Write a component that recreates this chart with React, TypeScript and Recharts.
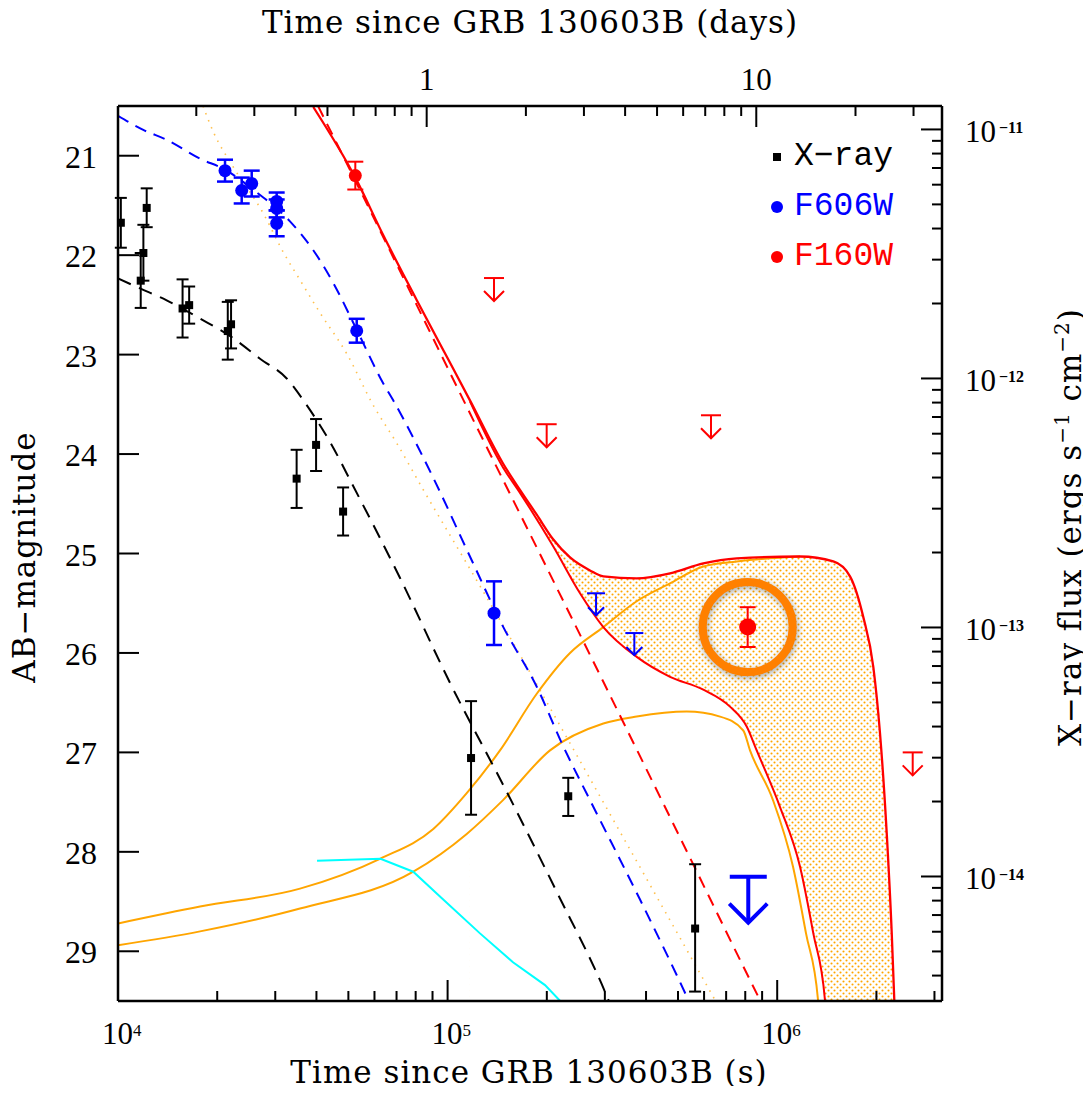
import React from "react";
import { ComposedChart, Line, Area, Scatter, XAxis, YAxis, ErrorBar } from "recharts";

type MagPoint = { t: number; m: number };

const SERIF = "'Liberation Serif', 'Times New Roman', serif";
const WIDE_SERIF = "'DejaVu Serif', 'Liberation Serif', serif";
const MONO = "'Liberation Mono', 'Courier New', monospace";

// axis ticks
const magTicks = [21, 22, 23, 24, 25, 26, 27, 28, 29];
const secondsTicks = [
  1e4, 2e4, 3e4, 4e4, 5e4, 6e4, 7e4, 8e4, 9e4,
  1e5, 2e5, 3e5, 4e5, 5e5, 6e5, 7e5, 8e5, 9e5,
  1e6, 2e6, 3e6,
];
const secondsMajor = [1e4, 1e5, 1e6];
const secondsLabels = ["4", "5", "6"];
const daysTicks = [0.2, 0.3, 0.4, 0.5, 0.6, 0.7, 0.8, 0.9, 1, 2, 3, 4, 5, 6, 7, 8, 9, 10, 20, 30];
const daysMajor = [1, 10];
const daysLabels = ["1", "10"];
const fluxTicks = [
  1e-11, 9e-12, 8e-12, 7e-12, 6e-12, 5e-12, 4e-12, 3e-12, 2e-12,
  1e-12, 9e-13, 8e-13, 7e-13, 6e-13, 5e-13, 4e-13, 3e-13, 2e-13,
  1e-13, 9e-14, 8e-14, 7e-14, 6e-14, 5e-14, 4e-14, 3e-14, 2e-14,
  1e-14, 9e-15, 8e-15, 7e-15, 6e-15, 5e-15, 4e-15,
];
const fluxMajor = [1e-11, 1e-12, 1e-13, 1e-14];
const fluxLabels = ["\u221211", "\u221212", "\u221213", "\u221214"];

// X-ray flux (erg/s/cm2) with error bar bounds
const xrayPoints = [
  { t: 1.02e4, f: 4.22e-12, lo: 3.35e-12, hi: 5.31e-12 },
  { t: 1.222e4, f: 4.84e-12, lo: 4.05e-12, hi: 5.8e-12 },
  { t: 1.194e4, f: 3.19e-12, lo: 2.47e-12, hi: 4.14e-12 },
  { t: 1.172e4, f: 2.47e-12, lo: 1.92e-12, hi: 3.19e-12 },
  { t: 1.57e4, f: 1.91e-12, lo: 1.46e-12, hi: 2.5e-12 },
  { t: 1.644e4, f: 1.97e-12, lo: 1.66e-12, hi: 2.34e-12 },
  { t: 2.153e4, f: 1.55e-12, lo: 1.19e-12, hi: 2.03e-12 },
  { t: 2.203e4, f: 1.65e-12, lo: 1.32e-12, hi: 2.06e-12 },
  { t: 3.483e4, f: 3.96e-13, lo: 3.02e-13, hi: 5.17e-13 },
  { t: 3.99e4, f: 5.41e-13, lo: 4.25e-13, hi: 6.87e-13 },
  { t: 4.819e4, f: 2.92e-13, lo: 2.34e-13, hi: 3.65e-13 },
  { t: 1.178e5, f: 2.99e-14, lo: 1.77e-14, hi: 5.06e-14 },
  { t: 2.323e5, f: 2.1e-14, lo: 1.75e-14, hi: 2.49e-14 },
  { t: 5.636e5, f: 6.18e-15, lo: 3.45e-15, hi: 1.12e-14 },
];

// optical detections (AB mag, 1 sigma)
const f606w = [
  { t: 2.112e4, m: 21.15, e: 0.11 },
  { t: 2.373e4, m: 21.35, e: 0.13 },
  { t: 2.545e4, m: 21.28, e: 0.13 },
  { t: 3.03e4, m: 21.46, e: 0.09 },
  { t: 3.03e4, m: 21.53, e: 0.09 },
  { t: 3.03e4, m: 21.68, e: 0.13 },
  { t: 5.3e4, m: 22.76, e: 0.12 },
  { t: 1.383e5, m: 25.6, e: 0.32 },
];
const f160w = [
  { t: 5.248e4, m: 21.2, e: 0.14 },
  { t: 8.136e5, m: 25.74, e: 0.2 },
];
const f160wLimits = [
  { t: 1.383e5, m: 22.23 },
  { t: 1.998e5, m: 23.7 },
  { t: 6.297e5, m: 23.61 },
  { t: 2.577e6, m: 27.0 },
];
const f606wLimits = [
  { t: 2.821e5, m: 25.4 },
  { t: 3.686e5, m: 25.8 },
];
const f606wDeepLimit = [{ t: 8.17e5, m: 28.25 }];
// the late F160W detection, circled (time in days)
const highlightedDays = [{ d: 9.417, m: 25.74 }];

// model curves
const xrayModel = [
  { t: 1.0e4, f: 2.52e-12 },
  { t: 1.166e4, f: 2.3e-12 },
  { t: 1.405e4, f: 2.06e-12 },
  { t: 1.774e4, f: 1.74e-12 },
  { t: 2.238e4, f: 1.45e-12 },
  { t: 2.697e4, f: 1.2e-12 },
  { t: 3.25e4, f: 1.0e-12 },
  { t: 3.737e4, f: 7.81e-13 },
  { t: 4.398e4, f: 5.56e-13 },
  { t: 5.175e4, f: 3.69e-13 },
  { t: 7.173e4, f: 1.58e-13 },
  { t: 1.017e5, f: 5.99e-14 },
  { t: 1.511e5, f: 2.19e-14 },
  { t: 2.143e5, f: 8.68e-15 },
  { t: 3.004e5, f: 3.44e-15 },
  { t: 3.334e5, f: 2.45e-15 },
];

const blueAfterglow: MagPoint[] = [
  { t: 1.0e4, m: 20.6 },
  { t: 1.193e4, m: 20.74 },
  { t: 1.405e4, m: 20.84 },
  { t: 1.774e4, m: 21.03 },
  { t: 2.112e4, m: 21.14 },
  { t: 2.568e4, m: 21.34 },
  { t: 3.325e4, m: 21.66 },
  { t: 3.913e4, m: 21.95 },
  { t: 4.5e4, m: 22.28 },
  { t: 5.3e4, m: 22.75 },
  { t: 6.381e4, m: 23.29 },
  { t: 6.839e4, m: 23.46 },
  { t: 9.05e4, m: 24.24 },
  { t: 1.169e5, m: 25.03 },
  { t: 1.476e5, m: 25.74 },
  { t: 1.864e5, m: 26.34 },
  { t: 2.244e5, m: 26.94 },
  { t: 2.704e5, m: 27.48 },
  { t: 3.835e5, m: 28.48 },
  { t: 5.375e5, m: 29.49 },
  { t: 5.834e5, m: 29.75 },
];

const redAfterglow: MagPoint[] = [
  { t: 4.045e4, m: 20.5 },
  { t: 5.248e4, m: 21.25 },
  { t: 8.056e4, m: 22.5 },
  { t: 1.169e5, m: 23.59 },
  { t: 1.864e5, m: 24.94 },
  { t: 2.968e5, m: 26.29 },
  { t: 5.438e5, m: 28.06 },
  { t: 8.867e5, m: 29.49 },
  { t: 9.51e5, m: 29.69 },
];

// afterglow + bright kilonova (upper edge of shaded band)
const redTotalBright: MagPoint[] = [
  { t: 3.913e4, m: 20.51 },
  { t: 5.248e4, m: 21.22 },
  { t: 6.381e4, m: 21.8 },
  { t: 8.056e4, m: 22.45 },
  { t: 1.005e5, m: 23.05 },
  { t: 1.169e5, m: 23.46 },
  { t: 1.476e5, m: 24.1 },
  { t: 1.658e5, m: 24.36 },
  { t: 1.864e5, m: 24.61 },
  { t: 2.093e5, m: 24.86 },
  { t: 2.352e5, m: 25.04 },
  { t: 2.704e5, m: 25.17 },
  { t: 2.968e5, m: 25.23 },
  { t: 3.748e5, m: 25.25 },
  { t: 4.73e5, m: 25.2 },
  { t: 5.968e5, m: 25.1 },
  { t: 7.54e5, m: 25.05 },
  { t: 1.173e6, m: 25.03 },
  { t: 1.48e6, m: 25.08 },
  { t: 1.663e6, m: 25.23 },
  { t: 1.825e6, m: 25.64 },
  { t: 1.957e6, m: 26.14 },
  { t: 2.051e6, m: 26.81 },
  { t: 2.149e6, m: 27.81 },
  { t: 2.226e6, m: 28.82 },
  { t: 2.266e6, m: 29.49 },
  { t: 2.286e6, m: 29.79 },
];

// afterglow + faint kilonova (lower edge of shaded band)
const redTotalFaint: MagPoint[] = [
  { t: 1.169e5, m: 23.47 },
  { t: 1.476e5, m: 24.14 },
  { t: 1.658e5, m: 24.39 },
  { t: 2.093e5, m: 24.93 },
  { t: 2.522e5, m: 25.4 },
  { t: 2.968e5, m: 25.74 },
  { t: 3.748e5, m: 26.04 },
  { t: 4.73e5, m: 26.24 },
  { t: 5.968e5, m: 26.37 },
  { t: 7.19e5, m: 26.54 },
  { t: 8.08e5, m: 26.74 },
  { t: 8.665e5, m: 26.98 },
  { t: 1.02e6, m: 27.55 },
  { t: 1.173e6, m: 28.15 },
  { t: 1.287e6, m: 28.82 },
  { t: 1.396e6, m: 29.49 },
  { t: 1.416e6, m: 29.79 },
];

const kilonovaBright: MagPoint[] = [
  { t: 1.0e4, m: 28.72 },
  { t: 1.774e4, m: 28.55 },
  { t: 3.566e4, m: 28.37 },
  { t: 6.235e4, m: 28.07 },
  { t: 9.05e4, m: 27.77 },
  { t: 1.143e5, m: 27.41 },
  { t: 1.442e5, m: 26.98 },
  { t: 1.864e5, m: 26.41 },
  { t: 2.352e5, m: 26.0 },
  { t: 2.968e5, m: 25.74 },
  { t: 3.748e5, m: 25.48 },
  { t: 4.73e5, m: 25.3 },
  { t: 5.968e5, m: 25.13 },
  { t: 7.54e5, m: 25.08 },
  { t: 1.173e6, m: 25.03 },
];

const kilonovaFaint: MagPoint[] = [
  { t: 1.0e4, m: 28.94 },
  { t: 1.774e4, m: 28.8 },
  { t: 3.566e4, m: 28.57 },
  { t: 7.87e4, m: 28.2 },
  { t: 1.143e5, m: 27.82 },
  { t: 1.473e5, m: 27.48 },
  { t: 2.045e5, m: 26.98 },
  { t: 2.968e5, m: 26.71 },
  { t: 3.748e5, m: 26.64 },
  { t: 5.314e5, m: 26.59 },
  { t: 6.71e5, m: 26.64 },
  { t: 7.89e5, m: 26.78 },
  { t: 8.27e5, m: 26.98 },
  { t: 9.71e5, m: 27.48 },
  { t: 1.117e6, m: 28.15 },
  { t: 1.223e6, m: 28.82 },
  { t: 1.33e6, m: 29.49 },
  { t: 1.349e6, m: 29.79 },
];

const cyanModel: MagPoint[] = [
  { t: 4.017e4, m: 28.09 },
  { t: 6.26e4, m: 28.07 },
  { t: 7.865e4, m: 28.2 },
  { t: 9.48e4, m: 28.45 },
  { t: 1.254e5, m: 28.82 },
  { t: 1.579e5, m: 29.11 },
  { t: 1.975e5, m: 29.34 },
  { t: 2.196e5, m: 29.5 },
  { t: 2.352e5, m: 29.6 },
];

const dottedModel: MagPoint[] = [
  { t: 1.811e4, m: 20.5 },
  { t: 1.946e4, m: 20.76 },
  { t: 2.234e4, m: 21.11 },
  { t: 2.76e4, m: 21.58 },
  { t: 3.173e4, m: 21.97 },
  { t: 3.566e4, m: 22.25 },
  { t: 4.102e4, m: 22.58 },
  { t: 4.942e4, m: 22.99 },
  { t: 5.951e4, m: 23.51 },
  { t: 7.008e4, m: 23.89 },
  { t: 8.44e4, m: 24.36 },
  { t: 1.143e5, m: 25.1 },
  { t: 1.62e5, m: 25.96 },
  { t: 2.193e5, m: 26.73 },
  { t: 3.109e5, m: 27.62 },
  { t: 4.41e5, m: 28.51 },
  { t: 6.475e5, m: 29.49 },
  { t: 7.19e5, m: 29.76 },
];

const legendItems = [
  { label: "X\u2212ray", color: "#000000", square: true },
  { label: "F606W", color: "#0000FF", square: false },
  { label: "F160W", color: "#FF0000", square: false },
];

const BottomTick = (props: any) => {
  const { x, y, payload } = props;
  const i = secondsMajor.indexOf(payload.value);
  return (
    <g>
      <line x1={x} y1={y} x2={x} y2={y - (i >= 0 ? 21 : 10)} stroke="#000" strokeWidth={2} />
      {i >= 0 && (
        <text x={x - 16} y={y + 43} fontFamily={SERIF} fontSize={31} fill="#000">
          10
          <tspan dy={-8} fontSize={17}>
            {secondsLabels[i]}
          </tspan>
        </text>
      )}
    </g>
  );
};

const TopTick = (props: any) => {
  const { x, y, payload } = props;
  const i = daysMajor.indexOf(payload.value);
  return (
    <g>
      <line x1={x} y1={y} x2={x} y2={y + (i >= 0 ? 21 : 10)} stroke="#000" strokeWidth={2} />
      {i >= 0 && (
        <text x={x} y={y - 16} textAnchor="middle" fontFamily={SERIF} fontSize={31} fill="#000">
          {daysLabels[i]}
        </text>
      )}
    </g>
  );
};

const LeftTick = (props: any) => {
  const { x, y, payload } = props;
  return (
    <g>
      <line x1={x} y1={y} x2={x + 21} y2={y} stroke="#000" strokeWidth={2} />
      <text x={x - 21} y={y + 12} textAnchor="end" fontFamily={SERIF} fontSize={32} fill="#000">
        {payload.value}
      </text>
    </g>
  );
};

const RightTick = (props: any) => {
  const { x, y, payload } = props;
  const i = fluxMajor.indexOf(payload.value);
  return (
    <g>
      <line x1={x} y1={y} x2={x - (i >= 0 ? 21 : 10)} y2={y} stroke="#000" strokeWidth={2} />
      {i >= 0 && (
        <text x={x + 23} y={y + 13} fontFamily={SERIF} fontSize={31} fill="#000">
          10
          <tspan dx={3} dy={-9} fontSize={16} fontWeight="bold">
            {fluxLabels[i]}
          </tspan>
        </text>
      )}
    </g>
  );
};

const squareShape = (p: any) => <rect x={p.cx - 4} y={p.cy - 4} width={8} height={8} fill="#000" />;
const dotShape = (color: string) => (p: any) =>
  <circle cx={p.cx} cy={p.cy} r={p.payload.t > 5e5 ? 8.5 : 6.5} fill={color} />;
const limitShape = (color: string, half: number, len: number, head: number, sw: number) => (p: any) =>
  (
    <g stroke={color} strokeWidth={sw} fill="none">
      <line x1={p.cx - half} y1={p.cy} x2={p.cx + half} y2={p.cy} />
      <line x1={p.cx} y1={p.cy} x2={p.cx} y2={p.cy + len} />
      <polyline
        points={`${p.cx - head},${p.cy + len - head} ${p.cx},${p.cy + len} ${p.cx + head},${p.cy + len - head}`}
      />
    </g>
  );
const ringShape = (p: any) => (
  <circle
    cx={p.cx}
    cy={p.cy}
    r={45}
    fill="none"
    stroke="#FF8000"
    strokeWidth={8}
    style={{ filter: "drop-shadow(1px 2px 3px rgba(0,0,0,0.35))" }}
  />
);

const titleBase: React.CSSProperties = {
  position: "absolute",
  fontFamily: WIDE_SERIF,
  fontSize: 31,
  letterSpacing: 1,
  lineHeight: "32px",
  whiteSpace: "nowrap",
  color: "#000",
  transform: "translate(-50%, -50%)",
};
const supStyle: React.CSSProperties = { fontSize: 20, position: "relative", top: -12 };

export default function App() {
  const xray = xrayPoints.map((d) => ({ ...d, err: [d.f - d.lo, d.hi - d.f] }));
  const splitT = redTotalFaint[0].t;
  const bandTop = redTotalBright.filter((d) => d.t >= splitT);
  const lineCommon = { dot: false, activeDot: false, isAnimationActive: false, xAxisId: "t" } as const;

  return (
    <div style={{ position: "relative", margin: -8, width: 1091, height: 1094, overflow: "hidden", background: "#fff" }}>
      <div style={{ position: "absolute", left: 8, top: 8 }}>
        <ComposedChart width={1075} height={1078} margin={{ top: 0, right: 0, bottom: 0, left: 0 }}>
          <defs>
            <pattern id="kn-hatch" width={6} height={6} patternUnits="userSpaceOnUse">
              <circle cx={1.5} cy={1.5} r={1.05} fill="#FFA500" />
              <circle cx={4.5} cy={4.5} r={1.05} fill="#FFA500" />
            </pattern>
          </defs>
          <XAxis
            xAxisId="t"
            dataKey="t"
            type="number"
            scale="log"
            orientation="bottom"
            domain={[1e4, 3.1623e6]}
            allowDataOverflow
            ticks={secondsTicks}
            interval={0}
            tick={BottomTick}
            tickSize={0}
            tickMargin={0}
            tickLine={false}
            axisLine={{ stroke: "#000", strokeWidth: 2.5 }}
            height={85}
          />
          <XAxis
            xAxisId="days"
            dataKey="d"
            type="number"
            scale="log"
            orientation="top"
            domain={[0.11574, 36.6]}
            allowDataOverflow
            ticks={daysTicks}
            interval={0}
            tick={TopTick}
            tickSize={0}
            tickMargin={0}
            tickLine={false}
            axisLine={{ stroke: "#000", strokeWidth: 2.5 }}
            height={98}
          />
          <YAxis
            yAxisId="mag"
            dataKey="m"
            type="number"
            orientation="left"
            domain={[20.5, 29.5]}
            reversed
            allowDataOverflow
            ticks={magTicks}
            interval={0}
            tick={LeftTick}
            tickSize={0}
            tickMargin={0}
            tickLine={false}
            axisLine={{ stroke: "#000", strokeWidth: 2.5 }}
            width={110}
          />
          <YAxis
            yAxisId="flux"
            dataKey="f"
            type="number"
            scale="log"
            orientation="right"
            domain={[3.162e-15, 1.242e-11]}
            allowDataOverflow
            ticks={fluxTicks}
            interval={0}
            tick={RightTick}
            tickSize={0}
            tickMargin={0}
            tickLine={false}
            axisLine={{ stroke: "#000", strokeWidth: 2.5 }}
            width={141}
          />

          {/* shaded band between the two F160W totals */}
          <Area
            xAxisId="t"
            yAxisId="mag"
            data={bandTop}
            dataKey="m"
            type="monotone"
            baseValue={29.5}
            fill="url(#kn-hatch)"
            fillOpacity={1}
            stroke="none"
            isAnimationActive={false}
          />
          <Area
            xAxisId="t"
            yAxisId="mag"
            data={redTotalFaint}
            dataKey="m"
            type="monotone"
            baseValue={29.5}
            fill="#fff"
            fillOpacity={1}
            stroke="none"
            isAnimationActive={false}
          />

          <Line {...lineCommon} yAxisId="mag" data={dottedModel} dataKey="m" type="monotone" stroke="#FFA500" strokeOpacity={0.7} strokeWidth={1.6} strokeDasharray="1.5 6" />
          <Line {...lineCommon} yAxisId="mag" data={kilonovaBright} dataKey="m" type="monotone" stroke="#FFA500" strokeWidth={2} />
          <Line {...lineCommon} yAxisId="mag" data={kilonovaFaint} dataKey="m" type="monotone" stroke="#FFA500" strokeWidth={2} />
          <Line {...lineCommon} yAxisId="mag" data={cyanModel} dataKey="m" type="linear" stroke="#00FFFF" strokeWidth={2} />
          <Line {...lineCommon} yAxisId="flux" data={xrayModel} dataKey="f" type="monotone" stroke="#000" strokeWidth={2} strokeDasharray="14 9" />
          <Line {...lineCommon} yAxisId="mag" data={blueAfterglow} dataKey="m" type="monotone" stroke="#0000FF" strokeWidth={2} strokeDasharray="12 8" />
          <Line {...lineCommon} yAxisId="mag" data={redAfterglow} dataKey="m" type="monotone" stroke="#FF0000" strokeWidth={2} strokeDasharray="12 8" />
          <Line {...lineCommon} yAxisId="mag" data={redTotalFaint} dataKey="m" type="monotone" stroke="#FF0000" strokeWidth={2} />
          <Line {...lineCommon} yAxisId="mag" data={redTotalBright} dataKey="m" type="monotone" stroke="#FF0000" strokeWidth={2.3} />

          <Scatter xAxisId="days" yAxisId="mag" data={highlightedDays} shape={ringShape} isAnimationActive={false} />
          <Scatter xAxisId="t" yAxisId="flux" data={xray} shape={squareShape} isAnimationActive={false}>
            <ErrorBar dataKey="err" direction="y" width={6} stroke="#000" strokeWidth={2} />
          </Scatter>
          <Scatter xAxisId="t" yAxisId="mag" data={f606w} shape={dotShape("#0000FF")} isAnimationActive={false}>
            <ErrorBar dataKey="e" direction="y" width={8} stroke="#0000FF" strokeWidth={2.5} />
          </Scatter>
          <Scatter xAxisId="t" yAxisId="mag" data={f160w} shape={dotShape("#FF0000")} isAnimationActive={false}>
            <ErrorBar dataKey="e" direction="y" width={8} stroke="#FF0000" strokeWidth={2} />
          </Scatter>
          <Scatter xAxisId="t" yAxisId="mag" data={f160wLimits} shape={limitShape("#FF0000", 10, 23, 10, 2)} isAnimationActive={false} />
          <Scatter xAxisId="t" yAxisId="mag" data={f606wLimits} shape={limitShape("#0000FF", 9, 22, 8, 2)} isAnimationActive={false} />
          <Scatter xAxisId="t" yAxisId="mag" data={f606wDeepLimit} shape={limitShape("#0000FF", 18.5, 46, 19, 4)} isAnimationActive={false} />
        </ComposedChart>
      </div>

      {/* legend */}
      {legendItems.map((it, i) => (
        <React.Fragment key={it.label}>
          <div
            style={{
              position: "absolute",
              left: it.square ? 773 : 771,
              top: it.square ? 153 : 201 + (i - 1) * 50,
              width: it.square ? 8 : 12,
              height: it.square ? 8 : 12,
              borderRadius: it.square ? 0 : "50%",
              background: it.color,
            }}
          />
          <div
            style={{
              position: "absolute",
              left: 794,
              top: 137 + i * 50,
              lineHeight: "40px",
              fontFamily: MONO,
              fontSize: 33,
              color: it.color,
              whiteSpace: "nowrap",
            }}
          >
            {it.label}
          </div>
        </React.Fragment>
      ))}

      {/* axis titles */}
      <div style={{ ...titleBase, left: 530, top: 22 }}>Time since GRB 130603B (days)</div>
      <div style={{ ...titleBase, left: 529, top: 1072 }}>Time since GRB 130603B (s)</div>
      <div style={{ ...titleBase, left: 24, top: 557, transform: "translate(-50%, -50%) rotate(-90deg)" }}>
        AB{"\u2212"}magnitude
      </div>
      <div style={{ ...titleBase, left: 1072, top: 527, transform: "translate(-50%, -50%) rotate(-90deg)" }}>
        X{"\u2212"}ray flux (ergs s<span style={supStyle}>{"\u2212"}1</span> cm<span style={supStyle}>{"\u2212"}2</span>)
      </div>
    </div>
  );
}
